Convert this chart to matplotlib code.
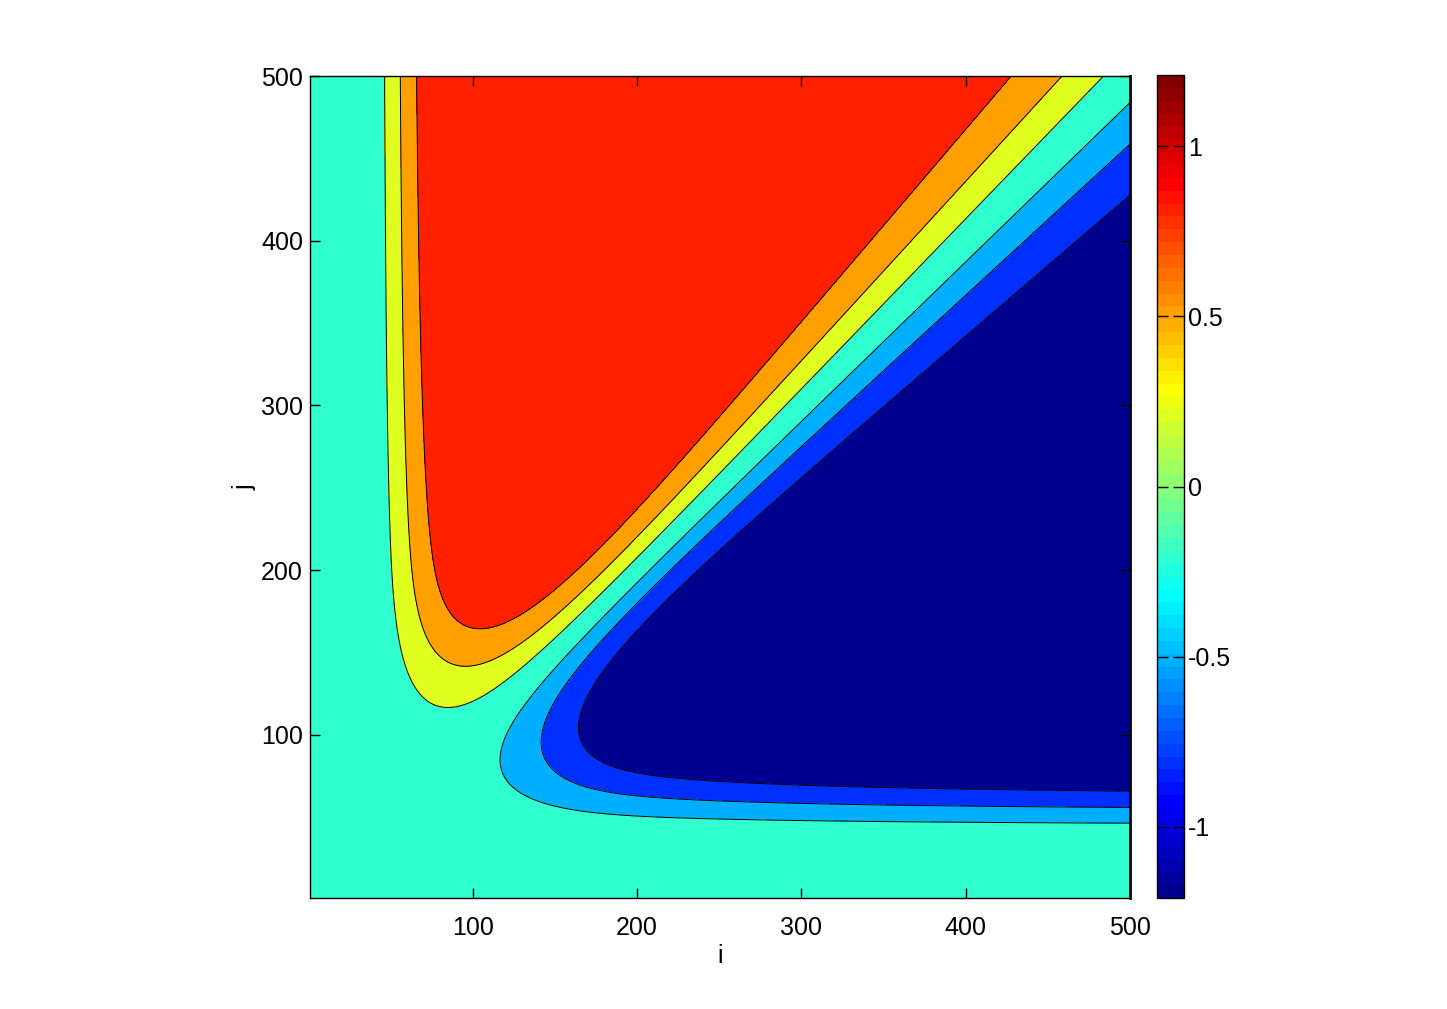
import numpy as np
import matplotlib
matplotlib.use("Agg")
import matplotlib.pyplot as plt
from matplotlib.colors import ListedColormap, Normalize
from matplotlib.cm import ScalarMappable

plt.rcParams["font.family"] = ["Liberation Sans", "DejaVu Sans"]
plt.rcParams["axes.unicode_minus"] = False

# grid indices (i across, j up)
i_vals = np.arange(1, 501)
j_vals = np.arange(1, 501)

# contour levels, region values and colour limits
boundaries = [-0.8, -0.5, -0.2, 0.2, 0.5, 0.8]
fill_levels = [-1.3, -0.8, -0.5, -0.2, 0.2, 0.5, 0.8, 1.3]
fill_values = [-1.21, -0.8, -0.5, -0.2, 0.2, 0.5, 0.8]
clim = (-1.21, 1.21)

x_ticks = [100, 200, 300, 400, 500]
y_ticks = [100, 200, 300, 400, 500]
cbar_ticks = [-1, -0.5, 0, 0.5, 1]
cbar_labels = ["-1", "-0.5", "0", "0.5", "1"]

# shape of the field (fitted to the contour positions)
amp = 1.21      # plateau value
p_norm = 1.3    # how i and j combine near the corner
h0 = 32.7       # onset of the rise away from the axes
tau = 28.6      # rise length
w_inf = 0.098   # width of the diagonal band in (j-i)/(j+i), far out
w_c = 10.0      # extra width near the corner
s_len = 62.0    # how fast that extra width dies off with i+j


def matlab_jet(m=64):
    # same recipe as MATLAB's jet(m)
    n = int(np.ceil(m / 4))
    u = np.concatenate([np.arange(1, n + 1) / n, np.ones(n - 1), np.arange(n, 0, -1) / n])
    g = int(np.ceil(n / 2)) - (1 if m % 4 == 1 else 0) + np.arange(1, len(u) + 1) - 1
    r = g + n
    b = g - n
    cm = np.zeros((m, 3))
    ok = (r >= 0) & (r < m)
    cm[r[ok], 0] = u[ok]
    ok = (g >= 0) & (g < m)
    cm[g[ok], 1] = u[ok]
    ok = (b >= 0) & (b < m)
    cm[b[ok], 2] = u[ok]
    return cm


jet64 = matlab_jet(64)
cmap = ListedColormap(jet64)
norm = Normalize(*clim)


def level_colour(v):
    k = int((v - clim[0]) / (clim[1] - clim[0]) * len(jet64))
    return jet64[min(max(k, 0), len(jet64) - 1)]


I, J = np.meshgrid(i_vals, j_vals)
h = (I ** -p_norm + J ** -p_norm) ** (-1 / p_norm)
rise = 1 - np.exp(-(np.clip(h - h0, 0, None) / tau) ** 2)
ratio = (J - I) / (J + I)
width = w_inf + w_c * np.exp(-(I + J) / s_len)
Z = amp * rise * np.tanh(ratio / width)

fig = plt.figure(figsize=(14.47, 10.09), dpi=100)
ax = fig.add_axes([310 / 1447, 1 - 898 / 1009, 820 / 1447, 822 / 1009])

ax.contourf(I, J, Z, levels=fill_levels, colors=[level_colour(v) for v in fill_values])
ax.contour(I, J, Z, levels=boundaries, colors="k", linewidths=0.7, linestyles="solid")

ax.set_xlim(1, 500)
ax.set_ylim(1, 500)
ax.set_xticks(x_ticks)
ax.set_yticks(y_ticks)
ax.tick_params(direction="in", top=True, right=True, length=7, width=1, labelsize=18)
ax.tick_params(axis="x", pad=13)
ax.tick_params(axis="y", pad=5)
for side in ["left", "bottom", "top"]:
    ax.spines[side].set_linewidth(1.0)
ax.spines["right"].set_linewidth(2.0)
ax.set_xlabel("i", fontsize=18, labelpad=3)
ax.set_ylabel("j", fontsize=18, labelpad=3)

cax = fig.add_axes([1157 / 1447, 1 - 898 / 1009, 27 / 1447, 823 / 1009])
cb = fig.colorbar(ScalarMappable(norm=norm, cmap=cmap), cax=cax, ticks=cbar_ticks)
cb.set_ticklabels(cbar_labels)
cax.tick_params(direction="in", left=True, right=True, length=8, width=1,
                labelsize=18, pad=3)
cb.outline.set_linewidth(1.0)

fig.savefig("out.png", dpi=100)
